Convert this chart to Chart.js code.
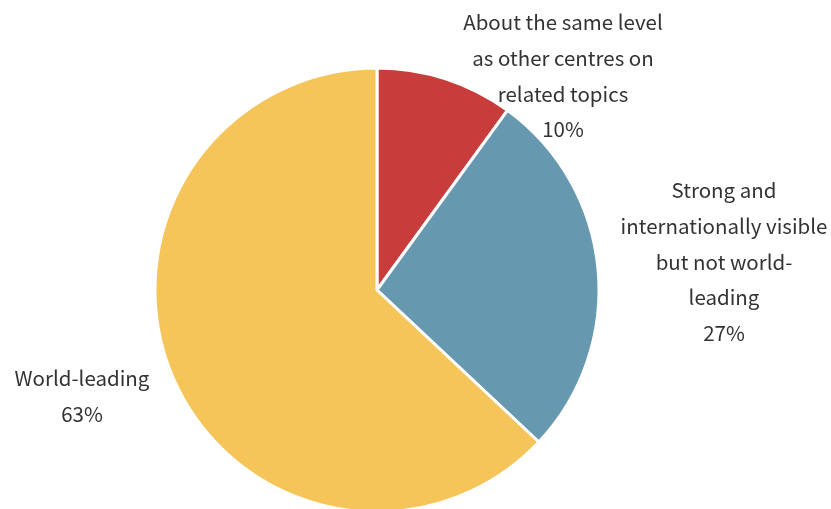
<!DOCTYPE html>
<html>
<head>
<meta charset="utf-8">
<script src="https://cdn.jsdelivr.net/npm/chart.js@4"></script>
<style>
  html, body { margin: 0; padding: 0; background: #fff; }
  #wrap { width: 831px; height: 509px; }
</style>
</head>
<body>
<div id="wrap"><canvas id="pie" width="831" height="509"></canvas></div>
<script>
// ── DATA ─────────────────────────────────────────────────────
const categories = [
  'About the same level as other centres on related topics',
  'Strong and internationally visible but not world-leading',
  'World-leading'
];
const shares = [10, 27, 63];
const labelLines = [
  ['About the same level', 'as other centres on', 'related topics'],
  ['Strong and', 'internationally visible', 'but not world-', 'leading'],
  ['World-leading']
];
const sliceColors = ['#c83d3c', '#6699b0', '#f6c55a'];

// label block centres, relative to the pie centre
const labelOffsets = [[186, -214], [347, -28], [-295, 106]];

// ── OUTSIDE LABELS ───────────────────────────────────────────
const outsideLabels = {
  id: 'outsideLabels',
  afterDatasetsDraw(chart, args, opts) {
    const { ctx } = chart;
    const meta = chart.getDatasetMeta(0);
    const cx = meta.data[0].x, cy = meta.data[0].y;
    ctx.save();
    ctx.font = opts.font;
    ctx.fillStyle = opts.color;
    ctx.textAlign = 'center';
    ctx.textBaseline = 'middle';
    meta.data.forEach((arc, i) => {
      const lines = labelLines[i].concat(shares[i] + '%');
      const [ox, oy] = labelOffsets[i];
      const top = cy + oy - (lines.length - 1) * opts.lineHeight / 2;
      lines.forEach((t, j) => ctx.fillText(t, cx + ox, top + j * opts.lineHeight));
    });
    ctx.restore();
  }
};

new Chart(document.getElementById('pie'), {
  type: 'pie',
  data: {
    labels: categories,
    datasets: [{
      data: shares,
      backgroundColor: sliceColors,
      borderColor: '#ffffff',
      borderWidth: 3
    }]
  },
  options: {
    responsive: false,
    animation: false,
    events: [],
    radius: 222,
    layout: { padding: { left: 155, right: 232, top: 71, bottom: 0 } },
    plugins: {
      legend: { display: false },
      tooltip: { enabled: false },
      outsideLabels: {
        font: '20.5px "Noto Sans CJK JP", "Noto Sans", sans-serif',
        color: '#333333',
        lineHeight: 35.7
      }
    }
  },
  plugins: [outsideLabels]
});
</script>
</body>
</html>
